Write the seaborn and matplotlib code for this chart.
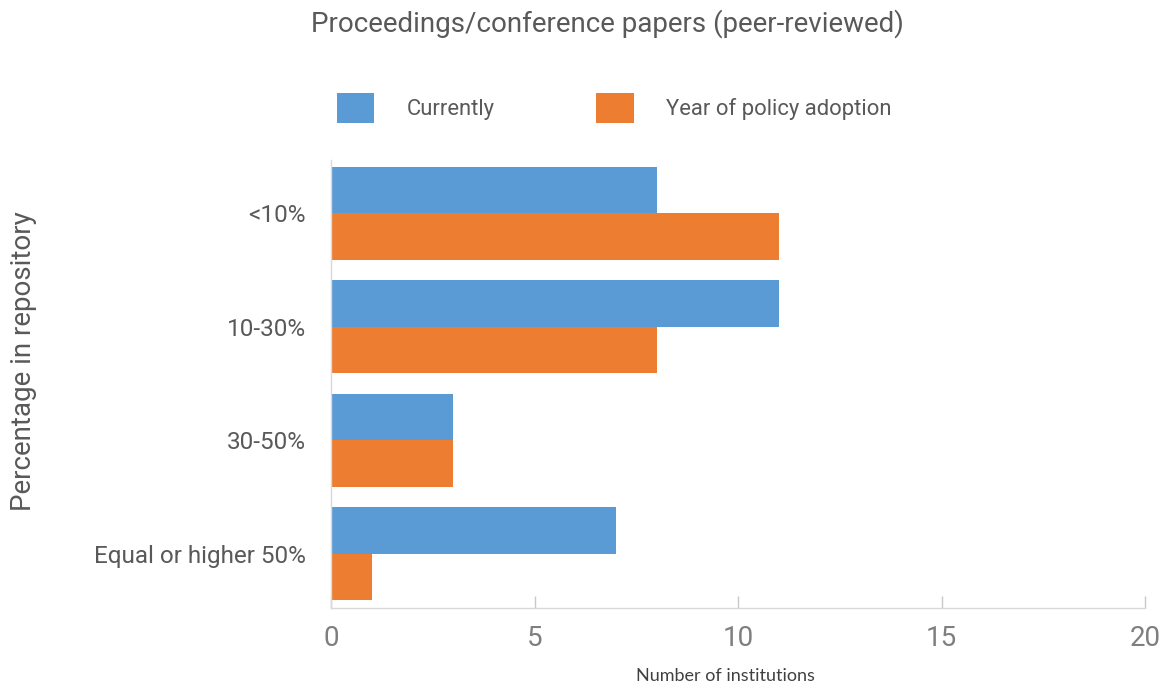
import matplotlib.pyplot as plt
import seaborn as sns
import pandas as pd

categories = ["<10%", "10-30%", "30-50%", "Equal or higher 50%"]
currently = [8, 11, 3, 7]
adoption = [11, 8, 3, 1]
series_names = ["Currently", "Year of policy adoption"]
x_ticks = [0, 5, 10, 15, 20]

df = pd.DataFrame(
    {
        "category": categories * 2,
        "value": currently + adoption,
        "series": [series_names[0]] * len(categories) + [series_names[1]] * len(categories),
    }
)

sns.set_style("white")
plt.rcParams["font.family"] = ["Roboto", "DejaVu Sans"]

text_grey = "#595959"
palette = {"Currently": "#5B9BD5", "Year of policy adoption": "#ED7D31"}

fig = plt.figure(figsize=(11.7, 6.89), dpi=100)
ax = fig.add_axes([0.283, 0.1176, 0.6957, 0.6502])

sns.barplot(
    data=df,
    x="value",
    y="category",
    hue="series",
    order=categories,
    hue_order=series_names,
    palette=palette,
    orient="h",
    width=0.82,
    saturation=1,
    linewidth=0,
    ax=ax,
)

ax.set_xlim(0, 20)
ax.set_ylim(3.48, -0.47)
ax.set_xticks(x_ticks)
ax.tick_params(axis="x", bottom=True, direction="in", length=9, width=1, color="#c8c8c8",
               labelsize=20, labelcolor="#7f7f7f", pad=12)
ax.tick_params(axis="y", length=0, labelsize=17.5, labelcolor=text_grey, pad=18)

for side in ["top", "right"]:
    ax.spines[side].set_visible(False)
for side in ["left", "bottom"]:
    ax.spines[side].set_color("#d9d9d9")
    ax.spines[side].set_linewidth(1)

ax.set_ylabel("")
ax.set_xlabel("")
fig.text(0.62, 0.019, "Number of institutions", ha="center", va="center",
         fontsize=13, color="#404040", family=["Lato", "DejaVu Sans"])

fig.text(0.02, 0.476, "Percentage in repository", rotation=90, ha="center",
         va="center", fontsize=20, color=text_grey)
fig.text(0.519, 0.966, "Proceedings/conference papers (peer-reviewed)",
         ha="center", va="center", fontsize=20, color=text_grey)

handles, labels = ax.get_legend_handles_labels()
ax.legend(
    handles,
    labels,
    loc="center left",
    bbox_to_anchor=(0.2786, 0.843),
    bbox_transform=fig.transFigure,
    ncol=2,
    frameon=False,
    fontsize=15.8,
    labelcolor=text_grey,
    handlelength=1.7,
    handleheight=1.7,
    handletextpad=1.46,
    columnspacing=4.65,
    borderpad=0,
)

fig.savefig("out.png", dpi=100)
